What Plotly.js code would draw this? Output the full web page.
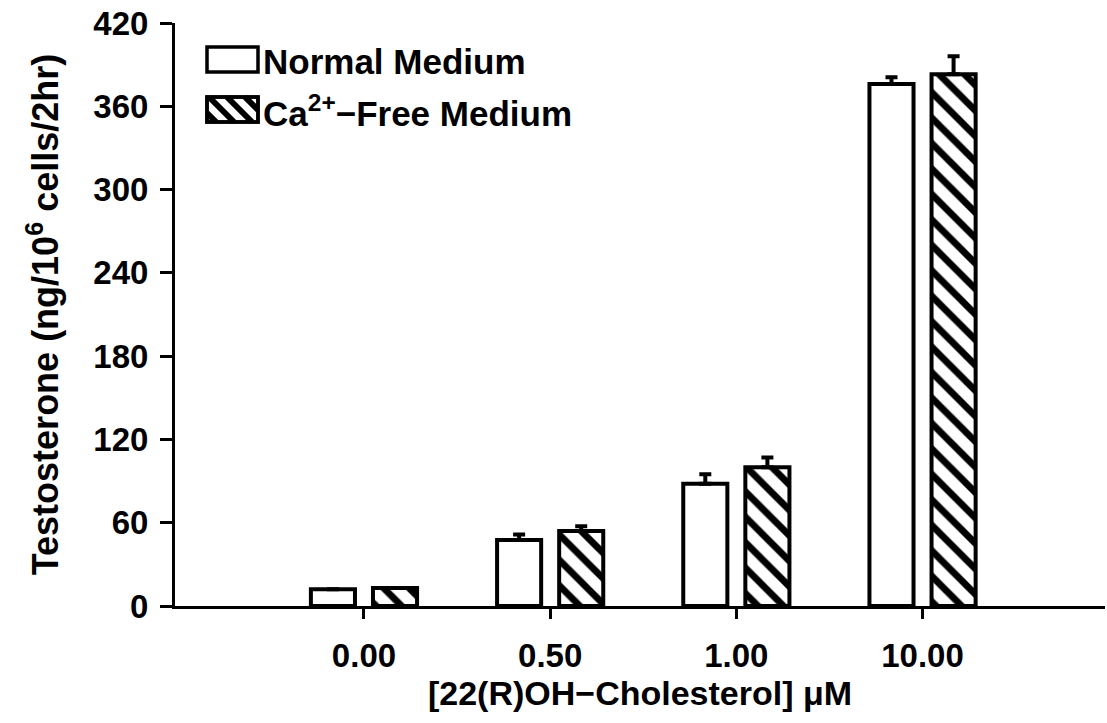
<!DOCTYPE html>
<html>
<head>
<meta charset="utf-8">
<script src="https://cdn.plot.ly/plotly-3.0.1.min.js"></script>
<style>html,body{margin:0;padding:0;background:#fff;}#chart{width:1107px;height:723px;}</style>
</head>
<body>
<div id="chart"></div>
<script>
// Data
const categories = ["0.00", "0.50", "1.00", "10.00"];
const normalValues = [12, 47.5, 88, 376];
const normalErrors = [0, 4, 7, 5];
const caFreeValues = [13, 54, 100, 383];
const caFreeErrors = [0, 3.5, 7, 13];
const seriesNames = ["Normal Medium", "Ca<sup>2+</sup>\u2212Free Medium"];
const yTickValues = [0, 60, 120, 180, 240, 300, 360, 420];

const FONT = "Liberation Sans, Arial, sans-serif";
const W = 1107, H = 723;
const M = {l: 175, r: 2, t: 23, b: 117};
const PW = W - M.l - M.r, PH = H - M.t - M.b;
const HATCH = {size: 18, solidity: 0.38};

const traces = [
  {
    type: "bar",
    name: seriesNames[0],
    x: categories,
    y: normalValues,
    showlegend: false,
    marker: {color: "#ffffff", line: {color: "#000000", width: 4}},
    error_y: {type: "data", symmetric: false, array: normalErrors, arrayminus: normalErrors.map(() => 0),
              color: "#000000", thickness: 4, width: 6}
  },
  {
    type: "bar",
    name: seriesNames[1],
    x: categories,
    y: caFreeValues,
    showlegend: false,
    marker: {color: "#ffffff", line: {color: "#000000", width: 4},
             pattern: {shape: "\\", fgcolor: "#000000", bgcolor: "#ffffff", size: HATCH.size, solidity: HATCH.solidity}},
    error_y: {type: "data", symmetric: false, array: caFreeErrors, arrayminus: caFreeErrors.map(() => 0),
              color: "#000000", thickness: 4, width: 6}
  }
];

// Legend drawn as swatches + text (pixel layout converted to paper coords)
const px = x => (x - M.l) / PW;
const py = y => (H - M.b - y) / PH;
const shapes = [];
const annotations = [];
const swatches = [
  {x0: 207, x1: 258, y0: 47, y1: 72, hatched: false, label: seriesNames[0], ty: 61},
  {x0: 207, x1: 258, y0: 97, y1: 122, hatched: true, label: seriesNames[1], ty: 111}
];
swatches.forEach(s => {
  shapes.push({type: "rect", xref: "paper", yref: "paper", x0: px(s.x0), x1: px(s.x1), y0: py(s.y1), y1: py(s.y0),
               line: {color: "#000000", width: 3.5}, fillcolor: "#ffffff"});
  if (s.hatched) {
    // "\" diagonal hatch lines clipped to the swatch: x - y = k
    const step = HATCH.size;
    for (let k = s.x0 - s.y1 + step / 2; k < s.x1 - s.y0; k += step) {
      let xa = Math.max(s.x0, k + s.y0), ya = xa - k;
      let xb = Math.min(s.x1, k + s.y1), yb = xb - k;
      if (xb - xa < 2) continue;
      shapes.push({type: "line", xref: "paper", yref: "paper", x0: px(xa), y0: py(ya), x1: px(xb), y1: py(yb),
                   line: {color: "#000000", width: 6}});
    }
    shapes.push({type: "rect", xref: "paper", yref: "paper", x0: px(s.x0), x1: px(s.x1), y0: py(s.y1), y1: py(s.y0),
                 line: {color: "#000000", width: 3.5}, fillcolor: "rgba(0,0,0,0)"});
  }
  annotations.push({xref: "paper", yref: "paper", x: px(s.x1 + 3), y: py(s.ty), xanchor: "left", yanchor: "middle",
                    text: s.label, showarrow: false,
                    font: {family: FONT, size: 35, color: "#000000", weight: "bold"}});
});

const layout = {
  width: W,
  height: H,
  paper_bgcolor: "#ffffff",
  plot_bgcolor: "#ffffff",
  margin: M,
  barmode: "group",
  bargap: 0.333,
  bargroupgap: 0.29,
  font: {family: FONT, color: "#000000", size: 33, weight: "bold"},
  showlegend: false,
  shapes: shapes,
  annotations: annotations,
  xaxis: {
    type: "category",
    range: [-1.015, 3.98],
    showline: true, linecolor: "#000000", linewidth: 3,
    ticks: "outside", ticklen: 10, tickwidth: 3, tickcolor: "#000000",
    showgrid: false, zeroline: false,
    tickfont: {family: FONT, size: 33, color: "#000000", weight: "bold"},
    ticklabelstandoff: 8,
    title: {text: "[22(R)OH\u2212Cholesterol] \u03bcM", font: {family: FONT, size: 34, color: "#000000", weight: "bold"}, standoff: 2}
  },
  yaxis: {
    range: [0, 420],
    tickvals: yTickValues,
    ticktext: yTickValues.map(String),
    showline: true, linecolor: "#000000", linewidth: 3,
    ticks: "outside", ticklen: 12, tickwidth: 3, tickcolor: "#000000",
    showgrid: false, zeroline: false,
    tickfont: {family: FONT, size: 33, color: "#000000", weight: "bold"},
    ticklabelstandoff: 5,
    title: {text: "Testosterone (ng/10<sup>6</sup> cells/2hr)", font: {family: FONT, size: 36, color: "#000000", weight: "bold"}, standoff: 24}
  }
};

Plotly.newPlot("chart", traces, layout, {displayModeBar: false, staticPlot: true});
</script>
</body>
</html>
